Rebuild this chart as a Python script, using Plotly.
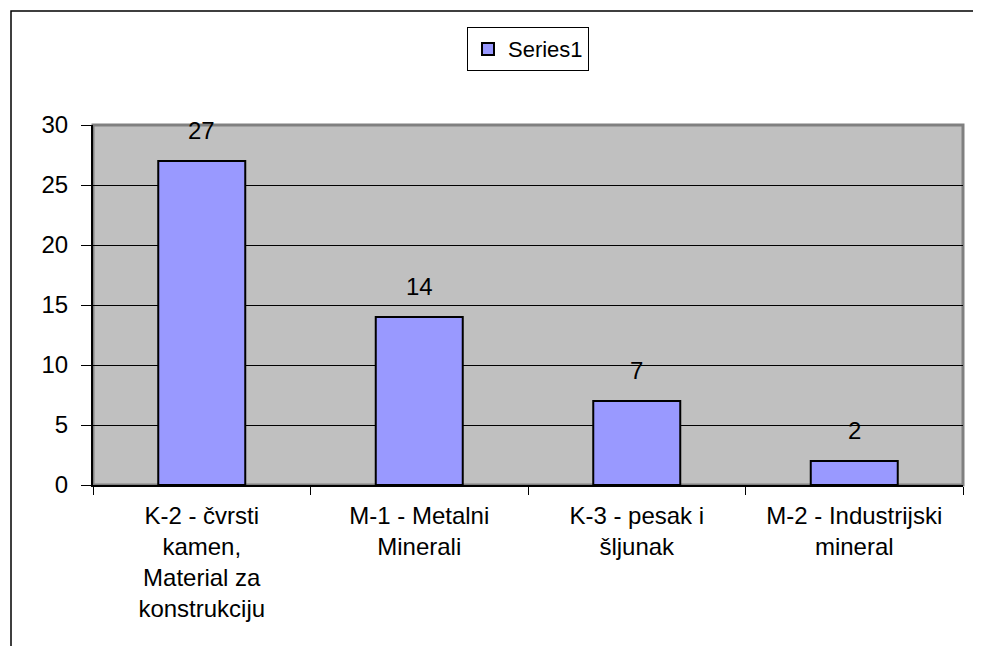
import plotly.graph_objects as go

categories = [
    "K-2 - čvrsti<br>kamen,<br>Material za<br>konstrukciju",
    "M-1 - Metalni<br>Minerali",
    "K-3 - pesak i<br>šljunak",
    "M-2 - Industrijski<br>mineral",
]
values = [27, 14, 7, 2]
series_name = "Series1"
y_ticks = [0, 5, 10, 15, 20, 25, 30]

font = "Arial, Liberation Sans, sans-serif"

fig = go.Figure()
fig.add_trace(go.Bar(
    x=categories, y=values, name=series_name,
    marker=dict(color="#9999FF", line=dict(color="black", width=2)),
    showlegend=True,
))

for c, v in zip(categories, values):
    fig.add_annotation(x=c, y=v, text=str(v), showarrow=False,
                       xref="x", yref="y", yanchor="bottom", yshift=15,
                       font=dict(size=24, color="black", family=font))

fig.update_layout(
    width=981, height=646,
    margin=dict(l=85, r=26, t=117, b=169),
    paper_bgcolor="white",
    plot_bgcolor="#C0C0C0",
    bargap=0.6,
    font=dict(family=font, size=24, color="black"),
    showlegend=True,
    legend=dict(x=0.5, xanchor="center", y=1.272, yanchor="top",
                bordercolor="black", borderwidth=1, bgcolor="white",
                font=dict(size=22, family=font, color="black"),
                itemwidth=30),
    xaxis=dict(showline=True, linecolor="black", linewidth=2,
               ticks="outside", tickson="boundaries", ticklen=8,
               tickcolor="black", tickwidth=1,
               ticklabelstandoff=8,
               tickfont=dict(size=24, family=font, color="black"),
               showgrid=False),
    yaxis=dict(range=[0, 30], tickvals=y_ticks,
               showline=True, linecolor="black", linewidth=2,
               ticks="outside", ticklen=10, tickcolor="black", tickwidth=1,
               ticklabelstandoff=8,
               showgrid=True, gridcolor="black", gridwidth=1,
               zeroline=False,
               tickfont=dict(size=24, family=font, color="black")),
    shapes=[
        dict(type="rect", xref="paper", yref="paper",
             x0=0, x1=1, y0=0, y1=1, layer="below",
             line=dict(color="#808080", width=3)),
        dict(type="rect", xref="paper", yref="paper",
             x0=-82 / 870, x1=1.2, y0=-0.6, y1=(485 - 11) / 360,
             line=dict(color="black", width=1.5)),
    ],
)

fig.write_html("out.html")
